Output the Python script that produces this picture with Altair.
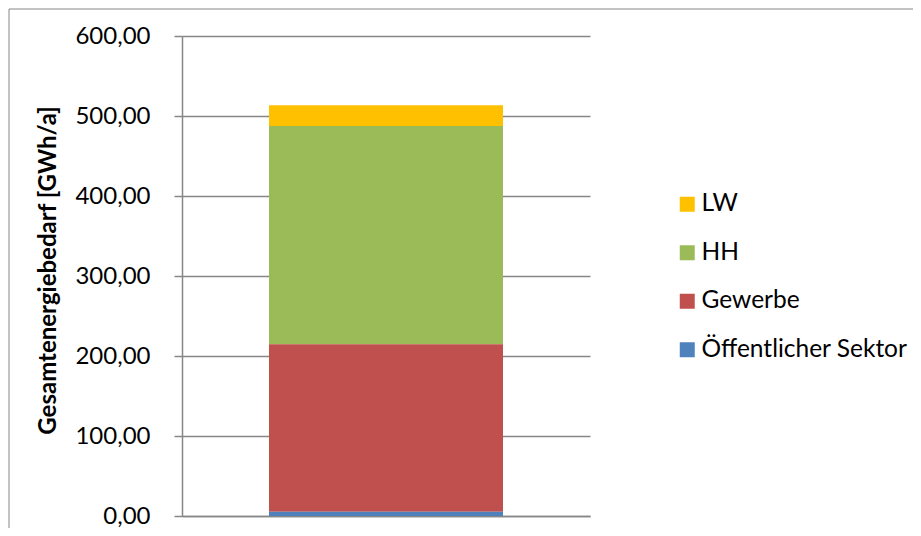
import altair as alt
import pandas as pd

# Data
sectors = ["LW", "HH", "Gewerbe", "Öffentlicher Sektor"]
values = [25.9, 272.9, 209.2, 5.4]
stack_order = [3, 2, 1, 0]
colors = ["#FFC000", "#9BBB59", "#C0504D", "#4F81BD"]
y_ticks = [0, 100, 200, 300, 400, 500, 600]

df = pd.DataFrame({
    "group": ["Gesamt"] * len(sectors),
    "sector": sectors,
    "value": values,
    "order": stack_order,
})

FONT = "Lato"
GRAY = "#868686"

bars = alt.Chart(df).mark_bar(size=234).encode(
    x=alt.X("group:N", axis=alt.Axis(labels=False, ticks=False, title=None,
                                     domainColor=GRAY, domainWidth=1.5, grid=False)),
    y=alt.Y("value:Q", stack="zero",
            scale=alt.Scale(domain=[0, 600], nice=False),
            axis=alt.Axis(values=y_ticks,
                          labelExpr="replace(format(datum.value, '.2f'), '.', ',')",
                          tickSize=8, tickColor=GRAY, tickWidth=1.5,
                          domainColor=GRAY, domainWidth=1.5,
                          grid=True, gridColor=GRAY, gridWidth=1.5,
                          labelPadding=24, labelFont=FONT, labelFontSize=24,
                          labelColor="#000000",
                          title="Gesamtenergiebedarf [GWh/a]",
                          titleFont=FONT, titleFontSize=24, titleFontWeight="bold",
                          titleColor="#000000",
                          titleAngle=-90, titleAlign="center", titleBaseline="middle",
                          titleX=-134, titleY=234)),
    color=alt.Color("sector:N",
                    scale=alt.Scale(domain=sectors, range=colors),
                    legend=alt.Legend(orient="none", legendX=493, legendY=156,
                                      title=None, symbolType="square",
                                      symbolSize=225, symbolStrokeWidth=0,
                                      labelFont=FONT, labelFontSize=24.5,
                                      labelColor="#000000", labelOffset=2,
                                      labelLimit=400,
                                      rowPadding=23.5, padding=0)),
    order=alt.Order("order:Q"),
)

frame_df = pd.DataFrame({"b": [0]})
top_border = alt.Chart(frame_df).mark_rule(color=GRAY, strokeWidth=1).encode(
    x=alt.value(-173), x2=alt.value(1000), y=alt.value(-27))
left_border = alt.Chart(frame_df).mark_rule(color=GRAY, strokeWidth=1).encode(
    x=alt.value(-173), y=alt.value(-27), y2=alt.value(1000))

chart = alt.layer(bars, top_border, left_border).properties(
    width=408, height=480,
    padding={"left": 174, "top": 28, "right": 323, "bottom": 12},
    autosize=alt.AutoSizeParams(type="none"),
).configure_view(stroke=None)

chart.save("out.html", embed_options={"renderer": "svg", "actions": False})
